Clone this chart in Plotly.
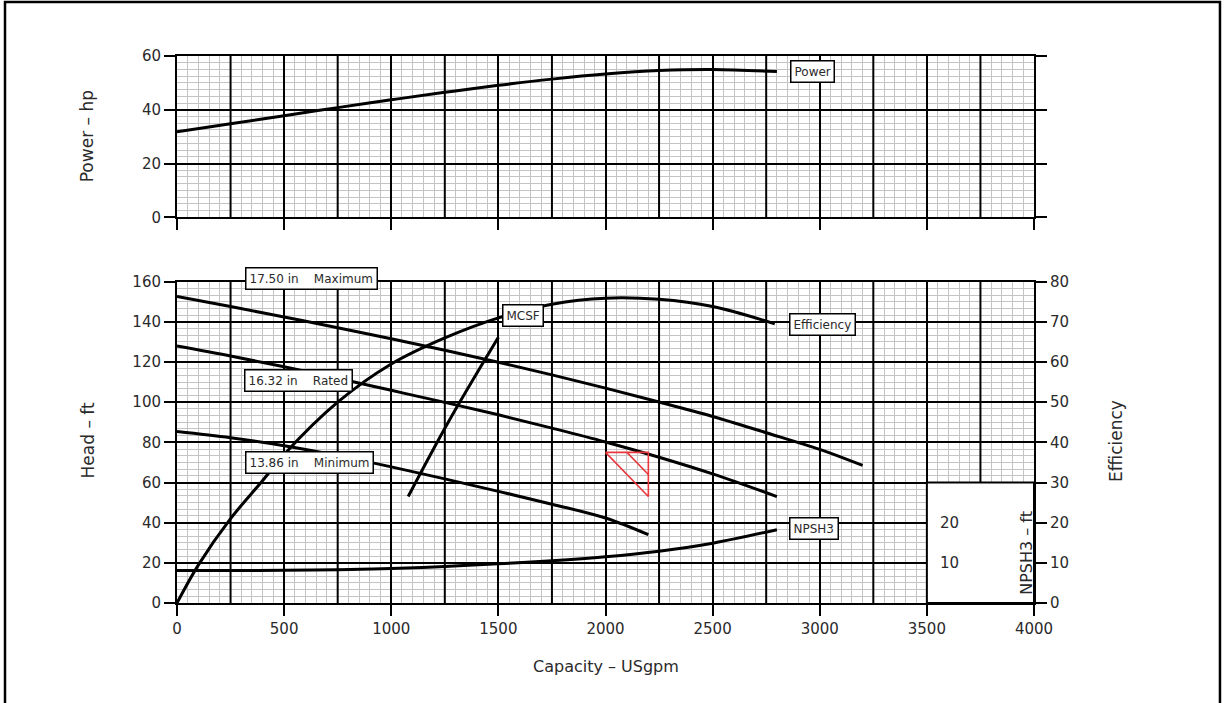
import plotly.graph_objects as go

# ---------------- data ----------------
capacity_ticks = [0, 500, 1000, 1500, 2000, 2500, 3000, 3500, 4000]
head_ticks = [0, 20, 40, 60, 80, 100, 120, 140, 160]
power_ticks = [0, 20, 40, 60]
eff_ticks = [0, 10, 20, 30, 40, 50, 60, 70, 80]
npsh_ticks = [10, 20]

q_power = [0, 250, 500, 750, 1000, 1250, 1500, 1750, 2000, 2250, 2500, 2800]
power_hp = [31.8, 34.8, 37.8, 40.8, 43.7, 46.5, 49.1, 51.4, 53.3, 54.6, 55.0, 54.2]

q_max = [0, 250, 500, 750, 1000, 1250, 1500, 1750, 2000, 2250, 2500, 2750, 3000, 3200]
head_max = [152.6, 147.6, 142.4, 137.1, 131.6, 125.9, 119.9, 113.6, 107.0, 100.1, 92.9, 84.8, 76.5, 68.5]

q_rated = [0, 250, 500, 750, 1000, 1250, 1500, 1750, 2000, 2250, 2500, 2800]
head_rated = [128.0, 123.0, 117.6, 111.9, 105.9, 99.9, 93.7, 87.1, 80.2, 72.6, 64.3, 53.0]

q_min = [0, 250, 500, 750, 1000, 1250, 1500, 1750, 2000, 2200]
head_min = [85.4, 82.3, 78.3, 73.4, 67.8, 61.8, 55.6, 49.2, 42.3, 34.0]

q_eff = [0, 100, 250, 400, 500, 750, 1000, 1250, 1500, 1750, 2000, 2250, 2500, 2790]
efficiency = [0, 9.5, 21.0, 30.5, 37.0, 50.0, 59.5, 66.0, 71.0, 74.4, 75.9, 75.6, 73.8, 69.5]

q_npsh = [0, 250, 500, 750, 1000, 1250, 1500, 1750, 2000, 2250, 2500, 2800]
npsh3_ft = [8.1, 8.1, 8.15, 8.3, 8.6, 9.1, 9.75, 10.5, 11.5, 12.9, 14.9, 18.25]

q_mcsf = [1079, 1266, 1500]
head_mcsf = [53.0, 90.0, 132.3]

# rated duty point marker (triangle with hatch line)
q_duty = [2000, 2200, 2200, 2000, None, 2100, 2200]
head_duty = [75, 75, 53, 75, None, 75, 64]

npsh_box_q = [3500, 4000]
npsh_box_head = [0, 60]

head_range = [0, 160]
power_range = [0, 60]

# ---------------- figure ----------------
BLACK = "black"
MINOR = "#c4c4c4"
FONT = "DejaVu Sans"
TXT = "#2a2a2a"
curve = dict(color=BLACK, width=3, shape="spline")

fig = go.Figure()

# black grid lines at the intermediate 250 gpm positions (ticks are only every 500)
mids = [(a + b) / 2 for a, b in zip(capacity_ticks[:-1], capacity_ticks[1:])]
gx, gy_head, gy_pow = [], [], []
for m in mids:
    gx += [m, m, None]
    gy_head += [head_range[0], head_range[1], None]
    gy_pow += [power_range[0], power_range[1], None]
fig.add_trace(go.Scatter(x=gx, y=gy_head, mode="lines", line=dict(color=BLACK, width=2), hoverinfo="skip"))
fig.add_trace(go.Scatter(x=gx, y=gy_pow, xaxis="x2", yaxis="y4", mode="lines",
                         line=dict(color=BLACK, width=2), hoverinfo="skip"))

# blank NPSH3 scale box
bx = [npsh_box_q[0], npsh_box_q[1], npsh_box_q[1], npsh_box_q[0], npsh_box_q[0]]
by = [npsh_box_head[0], npsh_box_head[0], npsh_box_head[1], npsh_box_head[1], npsh_box_head[0]]
fig.add_trace(go.Scatter(x=bx, y=by, mode="lines", fill="toself", fillcolor="white",
                         line=dict(color=BLACK, width=2), hoverinfo="skip"))

fig.add_trace(go.Scatter(x=q_power, y=power_hp, xaxis="x2", yaxis="y4", mode="lines",
                         line=curve, hoverinfo="skip"))
fig.add_trace(go.Scatter(x=q_max, y=head_max, mode="lines", line=curve, hoverinfo="skip"))
fig.add_trace(go.Scatter(x=q_rated, y=head_rated, mode="lines", line=curve, hoverinfo="skip"))
fig.add_trace(go.Scatter(x=q_min, y=head_min, mode="lines", line=curve, hoverinfo="skip"))
fig.add_trace(go.Scatter(x=q_mcsf, y=head_mcsf, mode="lines", line=curve, hoverinfo="skip"))
fig.add_trace(go.Scatter(x=q_eff, y=efficiency, yaxis="y2", mode="lines", line=curve, hoverinfo="skip"))
fig.add_trace(go.Scatter(x=q_npsh, y=npsh3_ft, yaxis="y3", mode="lines", line=curve, hoverinfo="skip"))
fig.add_trace(go.Scatter(x=q_duty, y=head_duty, mode="lines",
                         line=dict(color="#e8383d", width=1.6), hoverinfo="skip"))

tickfont = dict(family=FONT, size=15, color=TXT)
xcommon = dict(range=[0, 4000], tickvals=capacity_ticks, ticks="outside", ticklen=11, tickwidth=2,
               tickcolor=BLACK, showgrid=True, gridcolor=BLACK, gridwidth=2,
               minor=dict(dtick=50, tick0=0, showgrid=True, gridcolor=MINOR, gridwidth=1),
               showline=True, linecolor=BLACK, linewidth=2, mirror=True, zeroline=False,
               tickfont=tickfont, fixedrange=True)

fig.update_layout(
    width=1224, height=703, autosize=False,
    margin=dict(l=177, r=190, t=56, b=100),
    paper_bgcolor="white", plot_bgcolor="white",
    showlegend=False, hovermode=False,
    font=dict(family=FONT, size=15, color=TXT),
    xaxis=dict(domain=[0, 1], anchor="y", **xcommon),
    xaxis2=dict(domain=[0, 1], anchor="y4", showticklabels=False, **xcommon),
    yaxis=dict(domain=[0, 0.5874], anchor="x", range=head_range, tickvals=head_ticks,
               ticks="outside", ticklen=11, tickwidth=2, tickcolor=BLACK,
               showgrid=True, gridcolor=BLACK, gridwidth=2,
               minor=dict(dtick=20 / 6, tick0=0, showgrid=True, gridcolor=MINOR, gridwidth=1),
               showline=True, linecolor=BLACK, linewidth=2, mirror=True, zeroline=False,
               tickfont=tickfont, fixedrange=True),
    yaxis2=dict(overlaying="y", anchor="x", side="right", range=[0, 80], tickvals=eff_ticks,
                ticks="outside", ticklen=11, tickwidth=2, tickcolor=BLACK, showgrid=False,
                showline=True, linecolor=BLACK, linewidth=2, zeroline=False, tickfont=tickfont,
                fixedrange=True),
    yaxis3=dict(overlaying="y", anchor="free", position=0.875, side="right", range=[0, 80],
                tickvals=npsh_ticks, ticks="outside", ticklen=9, tickcolor="rgba(0,0,0,0)",
                showgrid=False, showline=False, zeroline=False, tickfont=tickfont, fixedrange=True),
    yaxis4=dict(domain=[0.7051, 1], anchor="x2", range=power_range, tickvals=power_ticks,
                ticks="outside", ticklen=11, tickwidth=2, tickcolor=BLACK,
                showgrid=True, gridcolor=BLACK, gridwidth=2,
                minor=dict(dtick=2.5, tick0=0, showgrid=True, gridcolor=MINOR, gridwidth=1),
                showline=True, linecolor=BLACK, linewidth=2, mirror="ticks", zeroline=False,
                tickfont=tickfont, fixedrange=True),
)

# outer frame of the picture
fig.add_shape(type="rect", xref="paper", yref="paper", x0=-0.2007, x1=1.2170, y0=-0.22, y1=1.0987,
              line=dict(color=BLACK, width=2.5), fillcolor="rgba(0,0,0,0)", layer="above")

# boxed curve labels
box = dict(showarrow=False, bgcolor="white", bordercolor=BLACK, borderwidth=1.5, borderpad=3,
           font=dict(family=FONT, size=12, color=TXT), xanchor="center", yanchor="middle")
labels = [
    ("17.50 in&nbsp;&nbsp;&nbsp;&nbsp;Maximum", 0.1564, 0.594, "paper", "paper"),
    ("16.32 in&nbsp;&nbsp;&nbsp;&nbsp;Rated", 566, 110.7, "x", "y"),
    ("13.86 in&nbsp;&nbsp;&nbsp;&nbsp;Minimum", 618, 70, "x", "y"),
    ("MCSF", 1613, 143, "x", "y"),
    ("Efficiency", 3014, 138.5, "x", "y"),
    ("NPSH3", 2975, 37.3, "x", "y"),
    ("Power", 2967, 54.1, "x2", "y4"),
]
for text, xv, yv, xr, yr in labels:
    fig.add_annotation(text=text, x=xv, y=yv, xref=xr, yref=yr, **box)

# axis titles
title_font = dict(family=FONT, size=17, color=TXT)
titles = [
    ("Power – hp", -0.104, 0.853, -90, title_font),
    ("Head – ft", -0.104, 0.297, -90, title_font),
    ("Efficiency", 1.095, 0.297, -90, title_font),
    ("NPSH3 – ft", 0.992, 0.092, -90, dict(family=FONT, size=16, color=TXT)),
    ("Capacity – USgpm", 0.5, -0.117, 0, dict(family=FONT, size=16, color=TXT)),
]
for text, xp, yp, ang, fnt in titles:
    fig.add_annotation(text=text, x=xp, y=yp, xref="paper", yref="paper", showarrow=False,
                       textangle=ang, font=fnt, xanchor="center", yanchor="middle")

fig.write_html("out.html", config={"displayModeBar": False},
               post_script="document.body.style.margin='0';")
